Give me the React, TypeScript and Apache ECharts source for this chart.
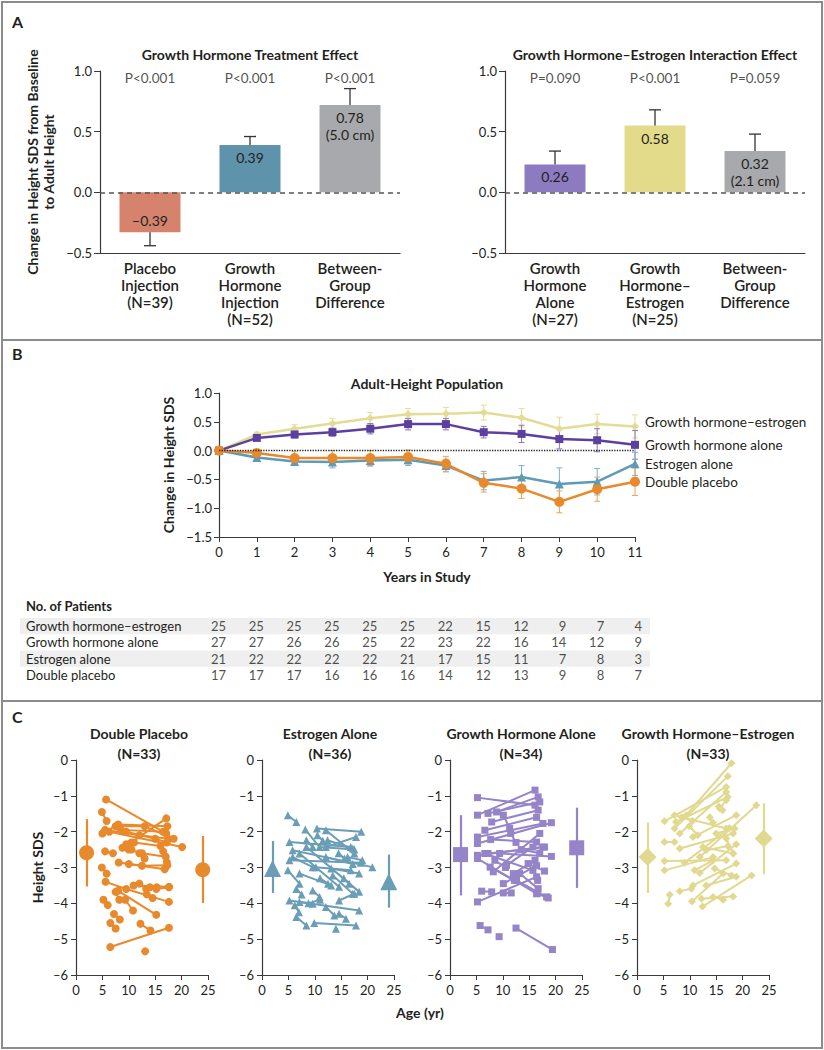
import React, { useEffect, useRef } from "react";
import * as echarts from "echarts";

const FF = 'Lato, "Open Sans", sans-serif';
const TXT = "#231f20";

// ---------- Panel A ----------
const aLeftCats = ["Placebo\nInjection\n(N=39)", "Growth\nHormone\nInjection\n(N=52)", "Between-\nGroup\nDifference"];
const aLeftVals = [-0.33, 0.39, 0.72];
const aLeftErr = [-0.44, 0.46, 0.855];
const aLeftLabels = ["\u22120.39", "0.39", "0.78\n(5.0 cm)"];
const aLeftP = ["P<0.001", "P<0.001", "P<0.001"];
const aLeftColors = ["#d5836d", "#5e93ab", "#a7a9ac"];

const aRightCats = ["Growth\nHormone\nAlone\n(N=27)", "Growth\nHormone\u2013\nEstrogen\n(N=25)", "Between-\nGroup\nDifference"];
const aRightVals = [0.23, 0.55, 0.34];
const aRightErr = [0.34, 0.68, 0.48];
const aRightLabels = ["0.26", "0.58", "0.32\n(2.1 cm)"];
const aRightP = ["P=0.090", "P<0.001", "P=0.059"];
const aRightColors = ["#8c7bc0", "#e3db8a", "#a7a9ac"];

// ---------- Panel B ----------
const years = [0, 1, 2, 3, 4, 5, 6, 7, 8, 9, 10, 11];
const gheMean = [0, 0.28, 0.38, 0.47, 0.56, 0.63, 0.64, 0.66, 0.57, 0.38, 0.46, 0.42];
const gheSE = [0, 0.04, 0.07, 0.09, 0.1, 0.1, 0.11, 0.13, 0.16, 0.2, 0.17, 0.2];
const ghMean = [0, 0.22, 0.28, 0.32, 0.38, 0.46, 0.46, 0.32, 0.29, 0.2, 0.18, 0.1];
const ghSE = [0, 0.04, 0.06, 0.07, 0.09, 0.1, 0.1, 0.1, 0.15, 0.17, 0.2, 0.25];
const estMean = [0, -0.12, -0.19, -0.2, -0.17, -0.16, -0.26, -0.52, -0.46, -0.58, -0.54, -0.23];
const estSE = [0, 0.04, 0.07, 0.1, 0.1, 0.1, 0.11, 0.16, 0.2, 0.28, 0.23, 0.2];
const dpMean = [0, -0.04, -0.13, -0.13, -0.13, -0.11, -0.23, -0.56, -0.66, -0.89, -0.67, -0.54];
const dpSE = [0, 0.05, 0.12, 0.13, 0.13, 0.12, 0.13, 0.16, 0.17, 0.19, 0.21, 0.24];
const groupNames = ["Growth hormone\u2013estrogen", "Growth hormone alone", "Estrogen alone", "Double placebo"];

// ---------- Table ----------
const tableRows = ["Growth hormone\u2013estrogen", "Growth hormone alone", "Estrogen alone", "Double placebo"];
const nGHE = [25, 25, 25, 25, 25, 25, 22, 15, 12, 9, 7, 4];
const nGH = [27, 27, 26, 26, 25, 22, 23, 22, 16, 14, 12, 9];
const nEst = [21, 22, 22, 22, 22, 21, 17, 15, 11, 7, 8, 3];
const nDP = [17, 17, 17, 16, 16, 16, 14, 12, 13, 9, 8, 7];

// ---------- Panel C ----------
const cTitles = ["Double Placebo\n(N=33)", "Estrogen Alone\n(N=36)", "Growth Hormone Alone\n(N=34)", "Growth Hormone\u2013Estrogen\n(N=33)"];
const summaryAges = [2, 24];
const dpSum = [-2.59, -3.06];
const dpSumLo = [-3.53, -3.99];
const dpSumHi = [-1.65, -2.12];
const esSum = [-3.03, -3.4];
const esSumLo = [-3.71, -4.12];
const esSumHi = [-2.26, -2.64];
const ghSum = [-2.64, -2.45];
const ghSumLo = [-3.78, -3.57];
const ghSumHi = [-1.54, -1.33];
const gheSum = [-2.71, -2.19];
const gheSumLo = [-3.71, -3.19];
const gheSumHi = [-1.74, -1.21];

const dpTraj = [
  [[5.7, -1.1], [17.1, -2.05]],
  [[4.9, -1.45], [5.8, -1.7]],
  [[10.5, -2.3], [17.1, -1.63]],
  [[5.5, -1.95], [12, -2.1], [17.5, -2.2]],
  [[5, -2.05], [8, -1.8], [17.3, -1.85]],
  [[7.5, -1.85], [13, -1.85], [18.5, -2.2]],
  [[6.3, -2.0], [20.1, -2.43]],
  [[8.5, -1.95], [16.5, -2.0]],
  [[9.5, -2.0], [15, -2.2], [17.2, -2.3]],
  [[5.5, -2.55], [7, -2.6]],
  [[8.8, -2.45], [11, -2.3], [16, -2.4]],
  [[10, -2.5], [12.5, -2.6], [17, -2.7]],
  [[12, -2.6], [13, -2.75]],
  [[8.1, -2.86], [12.5, -2.95], [17.3, -2.94]],
  [[10, -2.9], [16.8, -3.05]],
  [[16.5, -2.55], [17.2, -2.85]],
  [[4.9, -3.0], [5.8, -3.17]],
  [[5.6, -3.4], [9.5, -3.6], [17.6, -3.96]],
  [[10.9, -3.5], [17.6, -3.54]],
  [[12, -3.45], [13.3, -3.6]],
  [[8, -3.65], [15.2, -4.32]],
  [[5.2, -3.9], [6, -4.05]],
  [[7.5, -3.68], [8.2, -3.9]],
  [[9.3, -3.9], [10.8, -4.2]],
  [[7.2, -4.3], [8.3, -4.45]],
  [[6.5, -4.55], [7.5, -4.7]],
  [[12.2, -4.57], [14.1, -4.76]],
  [[6.5, -5.22], [17.6, -4.68]],
  [[13.1, -5.34]],
  [[14, -3.55], [15.3, -3.55]],
  [[13.4, -3.75], [14.5, -3.85]],
  [[9.5, -2.35], [10.5, -2.5]],
  [[15.2, -3.6], [17.6, -3.55]],
];
const esTraj = [
  [[4.9, -1.54], [6.5, -1.73]],
  [[10.4, -1.91], [18.8, -2.0]],
  [[8.2, -1.94], [10.9, -2.43], [17.5, -2.5]],
  [[5.2, -2.29], [16.8, -2.43]],
  [[5.8, -2.52], [20.9, -2.99]],
  [[5.2, -2.8], [18.7, -2.87]],
  [[4.9, -3.08], [7.1, -3.45]],
  [[7.1, -2.61], [14.6, -3.54]],
  [[8.4, -2.43], [18.4, -3.68]],
  [[12.1, -2.43], [17.8, -2.15]],
  [[12.1, -1.96], [17.5, -2.61]],
  [[5.2, -3.92], [9.6, -4.01]],
  [[7.1, -3.96], [18.4, -4.2]],
  [[6.5, -4.38], [8.4, -4.62]],
  [[9.9, -4.55], [17.8, -4.62]],
  [[14, -4.71]],
  [[13.1, -3.03], [18.4, -3.17]],
  [[9.6, -3.64], [10.9, -3.82]],
  [[14.6, -4.29], [15.9, -4.43]],
  [[12.1, -4.1], [13.7, -4.34]],
  [[13.4, -3.22], [17.2, -3.73]],
  [[10.2, -2.99], [16.8, -3.08]],
  [[12.1, -2.71], [17.2, -2.9]],
  [[5.8, -2.71], [9.6, -2.99]],
  [[14.6, -3.92], [17.5, -3.73]],
  [[7.1, -3.17], [13.1, -3.5]],
  [[12.4, -2.24], [17.2, -2.47]],
  [[8.4, -2.24], [9.6, -2.43]],
  [[16.2, -2.71], [19, -2.8]],
  [[6.5, -3.6], [7.5, -3.75]],
  [[11, -3.3], [12.5, -3.45]],
  [[15.5, -3.3], [16.5, -3.45]],
  [[10.5, -2.1], [11.5, -2.25]],
  [[8.8, -4.0], [11, -3.9]],
  [[14.5, -2.6], [15.6, -2.75]],
  [[6.2, -4.05], [7, -4.25]],
];
const ghTraj = [
  [[5.2, -1.05], [16.1, -1.26]],
  [[5.2, -1.54], [16.1, -0.84]],
  [[7.2, -1.49], [17, -1.17]],
  [[8.8, -1.45], [16.7, -1.03]],
  [[7.9, -1.73], [16.7, -1.4]],
  [[6.6, -1.96], [16.4, -1.6]],
  [[5.2, -2.15], [17.6, -1.77]],
  [[5.2, -2.33], [19.2, -1.75]],
  [[10.1, -1.54], [11.3, -1.91]],
  [[7.7, -2.22], [16.4, -2.29]],
  [[5.2, -2.66], [17.9, -2.43]],
  [[5.2, -2.75], [16.4, -3.73]],
  [[6.6, -2.61], [15.7, -3.08]],
  [[8.2, -3.12], [17, -2.05]],
  [[9.4, -2.61], [19.2, -2.69]],
  [[10.7, -2.94], [15.7, -2.43]],
  [[12, -3.17], [16.1, -2.8]],
  [[5.2, -3.96], [16.4, -3.26]],
  [[6, -3.66], [7.9, -3.68]],
  [[10.1, -3.45], [16.4, -2.95]],
  [[10.1, -3.71], [11.6, -3.71]],
  [[12.6, -3.36], [18.3, -3.82]],
  [[5.7, -4.62], [7.2, -4.74]],
  [[9.3, -4.93]],
  [[12.5, -4.69], [19.4, -5.29]],
  [[13.2, -3.17], [16.7, -3.59]],
  [[7.6, -2.99], [12.2, -3.36]],
  [[14.8, -2.89], [17.9, -3.1]],
  [[16.6, -3.36]],
  [[7.2, -2.61], [17.6, -2.43]],
  [[11.5, -2.05], [12.5, -2.3]],
  [[13.5, -2.5], [17, -2.6]],
  [[8.5, -2.8], [10.5, -3.0]],
  [[16.5, -3.73], [18.6, -3.85]],
];
const gheTraj = [
  [[9.3, -1.54], [17.9, -0.09]],
  [[7.1, -1.91], [17.2, -0.45]],
  [[5.2, -1.71], [16.9, -0.75]],
  [[7.4, -1.73], [17.2, -1.03]],
  [[8.1, -2.05], [16.9, -0.89]],
  [[15.7, -1.35], [16.9, -1.12]],
  [[7.1, -1.54], [16.9, -1.91]],
  [[13.8, -1.6], [14.4, -1.75]],
  [[5.2, -2.29], [7.1, -2.29]],
  [[11.9, -2.71], [22.6, -1.26]],
  [[10.6, -2.15], [18.8, -1.54]],
  [[5.2, -2.82], [16.9, -2.8]],
  [[5.2, -3.08], [14.4, -2.71]],
  [[8.1, -2.47], [18.2, -2.05]],
  [[9, -2.87], [17.5, -1.9]],
  [[11.9, -3.15], [18.8, -2.35]],
  [[5.9, -4.01], [6.2, -3.76]],
  [[8.1, -3.66], [10.3, -3.59]],
  [[10.6, -3.5], [18.8, -2.89]],
  [[10.4, -3.95], [16.3, -3.17]],
  [[12.4, -4.09], [21.7, -3.22]],
  [[12.2, -3.87], [18.2, -3.81]],
  [[13.1, -3.5], [18.8, -3.26]],
  [[14.4, -3.82], [16.3, -3.9]],
  [[16.9, -2.19], [18.2, -2.61]],
  [[13.1, -2.52], [17.2, -2.4]],
  [[9.9, -1.85], [11.5, -2.1]],
  [[15, -2.05], [18.5, -1.91]],
  [[12.5, -2.43], [18.2, -2.61]],
  [[10.9, -3.08], [14.4, -2.8]],
  [[14.7, -3.03], [17.9, -3.22]],
  [[8.5, -1.6], [10.5, -1.7]],
  [[15.5, -1.3], [16.2, -1.4]],
];

const fmtMinus = (v: number, d: number) => (v < 0 ? "\u2212" : "") + Math.abs(v).toFixed(d);

function buildOption() {
  const grids: any[] = [
    { left: 100, top: 71, width: 300, height: 182 },
    { left: 505, top: 71, width: 300, height: 182 },
    { left: 219, top: 393, width: 416, height: 144 },
    { left: 219, top: 618, width: 416, height: 65 },
    { left: 76, top: 760, width: 132, height: 215 },
    { left: 262, top: 760, width: 132, height: 215 },
    { left: 450, top: 760, width: 132, height: 215 },
    { left: 637, top: 760, width: 132, height: 215 },
  ];
  const axisLine = { show: true, onZero: false, lineStyle: { color: "#3a3a3a", width: 1.2 } };
  const lbl = { color: TXT, fontFamily: FF, fontSize: 13 };

  const xAxes: any[] = [];
  const yAxes: any[] = [];
  // Panel A
  [aLeftCats, aRightCats].forEach((cats, i) => {
    xAxes.push({
      gridIndex: i, type: "category", data: cats, axisLine, axisTick: { show: false },
      axisLabel: { ...lbl, fontSize: 15, fontWeight: 600, lineHeight: 17, margin: 6, interval: 0 },
    });
    yAxes.push({
      gridIndex: i, type: "value", min: -0.5, max: 1.0, interval: 0.5, axisLine,
      axisTick: { show: true, length: 6, lineStyle: { color: "#3a3a3a" } },
      splitLine: { show: false },
      axisLabel: { ...lbl, margin: 8, formatter: (v: number) => fmtMinus(v, 1) },
      name: i === 0 ? "Change in Height SDS from Baseline\nto Adult Height" : "",
      nameLocation: "middle", nameGap: 44,
      nameTextStyle: { color: TXT, fontFamily: FF, fontSize: 14, fontWeight: "bold", lineHeight: 16 },
    });
  });
  // Panel B
  xAxes.push({
    gridIndex: 2, type: "value", min: 0, max: 11, interval: 1, axisLine,
    axisTick: { show: true, length: 5, lineStyle: { color: "#3a3a3a" } },
    splitLine: { show: false }, axisLabel: { ...lbl, margin: 8 },
    name: "Years in Study", nameLocation: "middle", nameGap: 32,
    nameTextStyle: { color: TXT, fontFamily: FF, fontSize: 14, fontWeight: "bold" },
  });
  yAxes.push({
    gridIndex: 2, type: "value", min: -1.5, max: 1.0, interval: 0.5, axisLine,
    axisTick: { show: true, length: 5, lineStyle: { color: "#3a3a3a" } },
    splitLine: { show: false },
    axisLabel: { ...lbl, margin: 7, formatter: (v: number) => fmtMinus(v, 1) },
    name: "Change in Height SDS", nameLocation: "middle", nameGap: 38,
    nameTextStyle: { color: TXT, fontFamily: FF, fontSize: 14, fontWeight: "bold" },
  });
  // Table
  xAxes.push({ gridIndex: 3, type: "value", min: 0, max: 11, interval: 1, show: false });
  yAxes.push({
    gridIndex: 3, type: "category", data: tableRows, inverse: true,
    axisLine: { show: false }, axisTick: { show: false }, splitLine: { show: false },
    axisLabel: { ...lbl, align: "left", margin: 193, interval: 0 },
  });
  // Panel C
  for (let i = 0; i < 4; i++) {
    xAxes.push({
      gridIndex: 4 + i, type: "value", min: 0, max: 25, interval: 5, axisLine,
      axisTick: { show: true, length: 5, lineStyle: { color: "#3a3a3a" } },
      splitLine: { show: false }, axisLabel: { ...lbl, margin: 8 },
    });
    yAxes.push({
      gridIndex: 4 + i, type: "value", min: -6, max: 0, interval: 1, axisLine,
      axisTick: { show: true, length: 5, lineStyle: { color: "#3a3a3a" } },
      splitLine: { show: false },
      axisLabel: { ...lbl, margin: 8, formatter: (v: number) => (v < 0 ? "\u2013" + Math.abs(v) : "0") },
      name: i === 0 ? "Height SDS" : "", nameLocation: "middle", nameGap: 32,
      nameTextStyle: { color: TXT, fontFamily: FF, fontSize: 14, fontWeight: "bold" },
    });
  }

  const series: any[] = [];

  // Panel A bars
  const aSets = [
    { vals: aLeftVals, err: aLeftErr, labels: aLeftLabels, p: aLeftP, colors: aLeftColors },
    { vals: aRightVals, err: aRightErr, labels: aRightLabels, p: aRightP, colors: aRightColors },
  ];
  aSets.forEach((s, gi) => {
    series.push({
      type: "bar", xAxisIndex: gi, yAxisIndex: gi, barWidth: 61,
      data: s.vals.map((v, k) => ({
        value: v,
        itemStyle: { color: s.colors[k] },
        label: {
          show: true, position: v < 0 ? "insideBottom" : "insideTop", distance: v < 0 ? 3 : 4,
          formatter: () => s.labels[k], color: TXT, fontFamily: FF, fontSize: 14, lineHeight: 17,
        },
      })),
      markLine: {
        silent: true, symbol: "none", label: { show: false },
        lineStyle: { color: "#555", type: [5, 4], width: 1.5 },
        data: [{ yAxis: 0 }],
      },
      z: 2,
    });
    series.push({
      type: "custom", xAxisIndex: gi, yAxisIndex: gi, z: 3,
      data: s.vals.map((v, k) => [k, v, s.err[k]]),
      renderItem: (params: any, api: any) => {
        const p1 = api.coord([api.value(0), api.value(1)]);
        const p2 = api.coord([api.value(0), api.value(2)]);
        const st = { stroke: "#333", lineWidth: 1.3 };
        return {
          type: "group",
          children: [
            { type: "line", shape: { x1: p1[0], y1: p1[1], x2: p2[0], y2: p2[1] }, style: st },
            { type: "line", shape: { x1: p2[0] - 6, y1: p2[1], x2: p2[0] + 6, y2: p2[1] }, style: st },
          ],
        };
      },
    });
    series.push({
      type: "scatter", xAxisIndex: gi, yAxisIndex: gi, symbolSize: 0, silent: true,
      data: s.p.map((t, k) => [k, 0.94]),
      label: {
        show: true, position: "inside", formatter: (p: any) => s.p[p.dataIndex],
        color: TXT, fontFamily: FF, fontSize: 13.5,
      },
    });
  });

  // Panel B lines
  const bSets = [
    { mean: gheMean, se: gheSE, color: "#e4dc95", errColor: "#e4dc95", symbol: "diamond", size: 8, dy: -4 },
    { mean: ghMean, se: ghSE, color: "#5b40a0", errColor: "#8a76c0", symbol: "rect", size: 8, dy: 0 },
    { mean: estMean, se: estSE, color: "#5f9bb6", errColor: "#7fb0c6", symbol: "triangle", size: 9, dy: 0 },
    { mean: dpMean, se: dpSE, color: "#e8892b", errColor: "#eea25a", symbol: "circle", size: 10, dy: 0 },
  ];
  bSets.forEach((s, k) => {
    series.push({
      type: "custom", xAxisIndex: 2, yAxisIndex: 2, z: 3,
      data: years.map((y, j) => [y, s.mean[j] - s.se[j], s.mean[j] + s.se[j]]),
      renderItem: (params: any, api: any) => {
        const lo = api.coord([api.value(0), api.value(1)]);
        const hi = api.coord([api.value(0), api.value(2)]);
        const st = { stroke: s.errColor, lineWidth: 1 };
        return {
          type: "group",
          children: [
            { type: "line", shape: { x1: lo[0], y1: lo[1], x2: hi[0], y2: hi[1] }, style: st },
            { type: "line", shape: { x1: lo[0] - 3, y1: lo[1], x2: lo[0] + 3, y2: lo[1] }, style: st },
            { type: "line", shape: { x1: hi[0] - 3, y1: hi[1], x2: hi[0] + 3, y2: hi[1] }, style: st },
          ],
        };
      },
    });
    series.push({
      type: "line", name: groupNames[k], xAxisIndex: 2, yAxisIndex: 2, z: 4,
      data: years.map((y, j) => [y, s.mean[j]]),
      symbol: s.symbol, symbolSize: s.size, showSymbol: true,
      lineStyle: { color: s.color, width: 2.5 }, itemStyle: { color: s.color },
      endLabel: {
        show: true, formatter: () => groupNames[k], distance: 10, offset: [0, s.dy],
        color: TXT, fontFamily: FF, fontSize: 13.5,
      },
      markLine: k === 0 ? {
        silent: true, symbol: "none", label: { show: false },
        lineStyle: { color: "#222", type: "dotted", width: 1.3 },
        data: [{ yAxis: 0 }],
      } : undefined,
    });
  });

  // Table
  const counts = [nGHE, nGH, nEst, nDP];
  const tableData: any[] = [];
  counts.forEach((row, r) => row.forEach((n, c) => tableData.push([years[c], r, n])));
  series.push({
    type: "scatter", xAxisIndex: 3, yAxisIndex: 3, symbolSize: 0, silent: true,
    data: tableData,
    label: {
      show: true, position: "inside", align: "right", offset: [7, 0],
      formatter: (p: any) => String(p.value[2]), color: TXT, fontFamily: FF, fontSize: 13,
    },
  });

  // Panel C
  const cSets = [
    { traj: dpTraj, sum: dpSum, lo: dpSumLo, hi: dpSumHi, color: "#e8892b", symbol: "circle", size: 8, big: 15 },
    { traj: esTraj, sum: esSum, lo: esSumLo, hi: esSumHi, color: "#6a9db6", symbol: "triangle", size: 8, big: 17 },
    { traj: ghTraj, sum: ghSum, lo: ghSumLo, hi: ghSumHi, color: "#9584c8", symbol: "rect", size: 7, big: 15 },
    { traj: gheTraj, sum: gheSum, lo: gheSumLo, hi: gheSumHi, color: "#e1d98f", symbol: "diamond", size: 8, big: 18 },
  ];
  cSets.forEach((s, i) => {
    const ax = 4 + i;
    series.push({
      type: "lines", coordinateSystem: "cartesian2d", xAxisIndex: ax, yAxisIndex: ax,
      polyline: true, silent: true, symbol: "none",
      lineStyle: { color: s.color, width: 2, opacity: 1 },
      data: s.traj.filter((t) => t.length > 1).map((t) => ({ coords: t })),
      z: 2,
    });
    const pts: number[][] = [];
    s.traj.forEach((t) => t.forEach((p) => pts.push(p)));
    series.push({
      type: "scatter", xAxisIndex: ax, yAxisIndex: ax, symbol: s.symbol, symbolSize: s.size,
      itemStyle: { color: s.color, opacity: 1 }, data: pts, z: 3,
    });
    series.push({
      type: "lines", coordinateSystem: "cartesian2d", xAxisIndex: ax, yAxisIndex: ax,
      silent: true, symbol: "none",
      lineStyle: { color: s.color, width: 2.2, opacity: 1 },
      data: summaryAges.map((a, j) => ({ coords: [[a, s.lo[j]], [a, s.hi[j]]] })),
      z: 2,
    });
    series.push({
      type: "scatter", xAxisIndex: ax, yAxisIndex: ax, symbol: s.symbol, symbolSize: s.big,
      itemStyle: { color: s.color, opacity: 1 },
      data: summaryAges.map((a, j) => [a, s.sum[j]]), z: 3,
    });
  });

  const border = "#8c8c8c";
  const tstyle = (extra: any) => ({ fill: TXT, fontFamily: FF, ...extra });
  const graphic: any[] = [
    { type: "rect", shape: { x: 2, y: 2, width: 820, height: 1046 }, style: { fill: "none", stroke: border, lineWidth: 2 }, z: 10 },
    { type: "line", shape: { x1: 2, y1: 340, x2: 822, y2: 340 }, style: { stroke: border, lineWidth: 2 }, z: 10 },
    { type: "line", shape: { x1: 2, y1: 701, x2: 822, y2: 701 }, style: { stroke: border, lineWidth: 2 }, z: 10 },
    { type: "text", x: 12, y: 13, style: tstyle({ text: "A", fontSize: 16, fontWeight: "bold" }) },
    { type: "text", x: 12, y: 345, style: tstyle({ text: "B", fontSize: 16, fontWeight: "bold" }) },
    { type: "text", x: 12, y: 708, style: tstyle({ text: "C", fontSize: 16, fontWeight: "bold" }) },
    { type: "text", x: 250, y: 54, style: tstyle({ text: "Growth Hormone Treatment Effect", fontSize: 14, fontWeight: "bold", align: "center", verticalAlign: "middle" }) },
    { type: "text", x: 655, y: 54, style: tstyle({ text: "Growth Hormone\u2013Estrogen Interaction Effect", fontSize: 14, fontWeight: "bold", align: "center", verticalAlign: "middle" }) },
    { type: "text", x: 427, y: 383, style: tstyle({ text: "Adult-Height Population", fontSize: 14, fontWeight: "bold", align: "center", verticalAlign: "middle" }) },
    { type: "text", x: 26, y: 606, style: tstyle({ text: "No. of Patients", fontSize: 13, fontWeight: "bold", verticalAlign: "middle" }) },
    { type: "rect", shape: { x: 20, y: 618, width: 630, height: 16.3 }, style: { fill: "#efefef" }, z: -1 },
    { type: "rect", shape: { x: 20, y: 650.5, width: 630, height: 16.3 }, style: { fill: "#efefef" }, z: -1 },
    { type: "text", x: 420, y: 1012, style: tstyle({ text: "Age (yr)", fontSize: 14, fontWeight: "bold", align: "center", verticalAlign: "middle" }) },
  ];
  const cCenters = [139, 330, 521, 708];
  cTitles.forEach((t, i) => {
    graphic.push({
      type: "text", x: cCenters[i], y: 743,
      style: tstyle({ text: t, fontSize: 14, fontWeight: "bold", align: "center", verticalAlign: "middle", lineHeight: 20 }),
    });
  });

  return {
    animation: false,
    backgroundColor: "#ffffff",
    textStyle: { fontFamily: FF },
    grid: grids,
    xAxis: xAxes,
    yAxis: yAxes,
    series,
    graphic,
  };
}

export default function App() {
  const ref = useRef<HTMLDivElement>(null);
  useEffect(() => {
    const chart = echarts.init(ref.current as HTMLDivElement, null, { renderer: "svg" });
    chart.setOption(buildOption() as any);
    return () => chart.dispose();
  }, []);
  return (
    <div
      ref={ref}
      style={{ position: "absolute", left: 0, top: 0, width: 824, height: 1050, background: "#fff" }}
    />
  );
}
